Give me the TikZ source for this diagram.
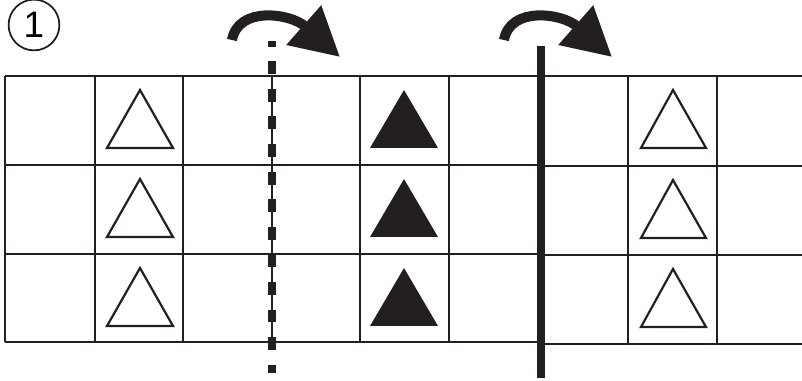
\documentclass[tikz,border=0pt]{standalone}
\usepackage{fontspec}
\setmainfont{Liberation Sans}
\usepackage{xcolor}
\usetikzlibrary{arrows.meta}
\definecolor{ink}{HTML}{231F20}
\tikzset{
  gridline/.style={draw=ink, line width=1.1pt},
  opentri/.style={draw=ink, line width=1.25pt, fill=white},
  filltri/.style={fill=ink},
  foldline/.style={draw=ink, line width=4.5pt,
    dash pattern=on 7.37pt off 8.33pt, dash phase=4pt},
  cutline/.style={draw=ink, line width=5.1pt},
  turn/.style={draw=ink, line width=5.7pt,
    -{Triangle[length=27.5pt, width=28.5pt]}},
  badge/.style={draw=ink, circle, line width=1pt, inner sep=0pt,
    minimum size=28.9pt, font=\fontsize{21}{21}\selectfont}
}

\begin{document}
\begin{tikzpicture}[x=0.02cm, y=-0.02cm]
  \useasboundingbox (0,0) rectangle (802,381);

  % step number
  \node[badge] (stepnum) at (34,25) {1};

  % left part of the strip
  \foreach \y in {76,165,254,342}
    \draw[gridline] (5,\y) -- (541,\y);
  \foreach \x in {5,95,183,272,360,449}
    \draw[gridline] (\x,76) -- (\x,342);

  % right part of the strip
  \foreach \y in {76,166,255,344}
    \draw[gridline] (541,\y) -- (802,\y);
  \foreach \x in {628,717}
    \draw[gridline] (\x,76) -- (\x,344);

  % triangles
  \foreach \t in {76,165,254} {
    \draw[opentri] (140,\t+14) -- (107,\t+72) -- (173,\t+72) -- cycle;
    \fill[filltri] (404,\t+14) -- (370,\t+72) -- (438,\t+72) -- cycle;
  }
  \foreach \t in {76,166,255}
    \draw[opentri] (673,\t+14) -- (641,\t+72) -- (706,\t+72) -- cycle;

  % fold and cut
  \draw[foldline] (272,40.7) -- (272,373);
  \draw[cutline] (541,46) -- (541,378);

  % turning arrows
  \coordinate (foldfrom) at (232,40);
  \coordinate (foldto) at (340,57);
  \coordinate (cutfrom) at (504,40);
  \coordinate (cutto) at (612,57);
  \draw[turn] (foldfrom) .. controls +(6,-34) and +(-50,-44) .. (foldto);
  \draw[turn] (cutfrom) .. controls +(6,-34) and +(-50,-44) .. (cutto);
\end{tikzpicture}
\end{document}
